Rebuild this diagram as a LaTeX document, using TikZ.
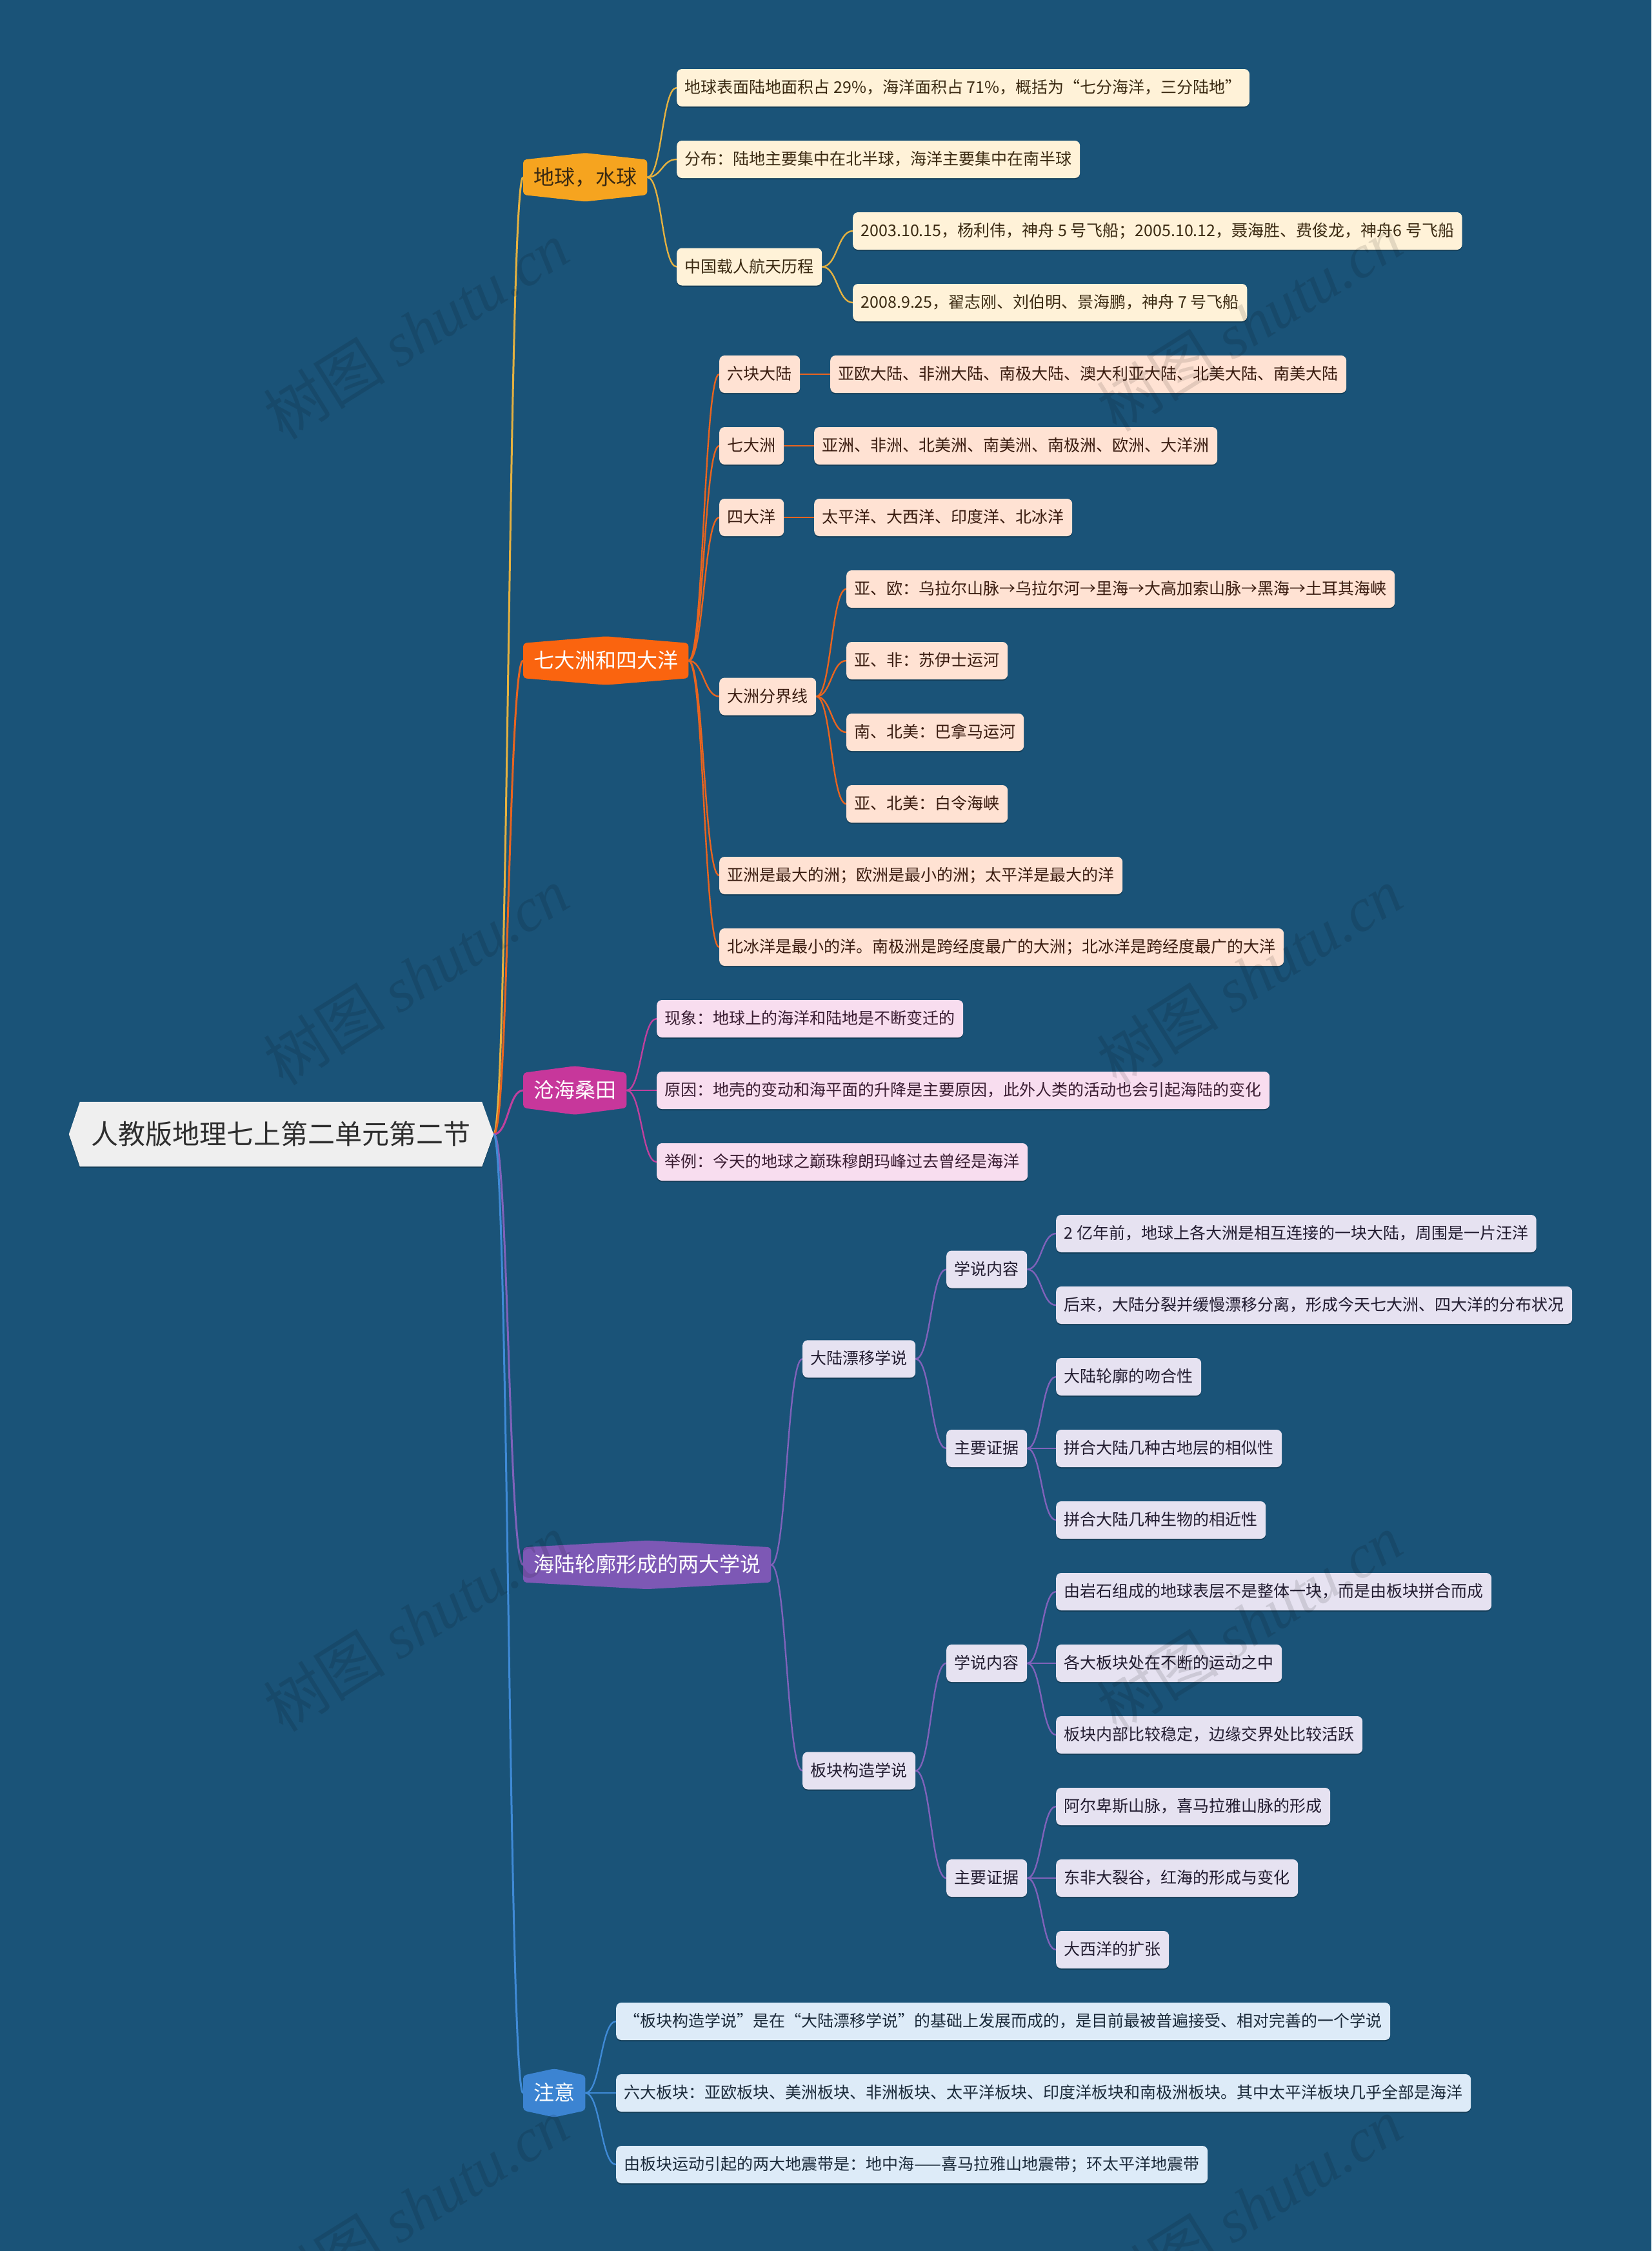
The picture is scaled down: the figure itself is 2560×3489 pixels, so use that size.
\documentclass[tikz,border=0pt]{standalone}
\usepackage{fontspec}
\setmainfont{Noto Sans CJK SC}
\newfontfamily\wmfont{Liberation Serif}
\usetikzlibrary{calc,shadows}
\definecolor{bgc}{HTML}{1A5378}
\definecolor{rootfill}{HTML}{EFEFEF}
\definecolor{roottext}{HTML}{2E2E2E}
% branch 1 (yellow)
\definecolor{cA}{HTML}{F6A41F}\definecolor{eA}{HTML}{E5B140}\definecolor{lA}{HTML}{FFF2D8}\definecolor{tA}{HTML}{3B2A12}
% branch 2 (orange)
\definecolor{cB}{HTML}{FA640F}\definecolor{eB}{HTML}{E9641F}\definecolor{lB}{HTML}{FFE2D3}\definecolor{tB}{HTML}{3A1C10}
% branch 3 (magenta)
\definecolor{cC}{HTML}{C7379B}\definecolor{eC}{HTML}{C0409E}\definecolor{lC}{HTML}{F8DDEF}\definecolor{tC}{HTML}{3A1D32}
% branch 4 (purple)
\definecolor{cD}{HTML}{7D58B5}\definecolor{eD}{HTML}{7F62BA}\definecolor{lD}{HTML}{E6E2F1}\definecolor{tD}{HTML}{221C30}
% branch 5 (blue)
\definecolor{cE}{HTML}{3C84D2}\definecolor{eE}{HTML}{3F8AD6}\definecolor{lE}{HTML}{DDEBF8}\definecolor{tE}{HTML}{1B2A3A}
\pgfdeclarelayer{bg}\pgfdeclarelayer{edges}\pgfdeclarelayer{shapes}\pgfdeclarelayer{wm}
\pgfsetlayers{bg,edges,shapes,main,wm}
\newcommand\fsleaf{\fontsize{25pt}{30pt}\selectfont}
\newcommand\fsmain{\fontsize{32pt}{38pt}\selectfont}
\newcommand\fsroot{\fontsize{42pt}{50pt}\selectfont}
\newcommand\fswm{\fontsize{95pt}{110pt}\selectfont}
\newcommand\lnk[3]{\draw[#1] let \p1=(#2.east), \p2=(#3.west), \p3=($(\p1)!0.5!(\p2)$) in (\p1) .. controls (\x3,\y1) and (\x3,\y2) .. (\p2);}
\newcommand\hexfill[2]{\fill[#2, rounded corners=5pt] (#1.south west) -- (#1.north west) -- ([yshift=10.5pt]#1.north) -- (#1.north east) -- (#1.south east) -- ([yshift=-10.5pt]#1.south) -- cycle;}
\begin{document}
\begin{tikzpicture}[x=1pt,y=-1pt,
  leaf/.style={rounded corners=8pt, anchor=west, inner xsep=12.5pt, inner ysep=0pt,
    minimum height=58pt, text height=21pt, text depth=4pt, font=\fsleaf,
    drop shadow={shadow xshift=0pt, shadow yshift=-2pt, opacity=0.25, fill=black}},
  leafA/.style={leaf, fill=lA, text=tA},
  leafB/.style={leaf, fill=lB, text=tB},
  leafC/.style={leaf, fill=lC, text=tC},
  leafD/.style={leaf, fill=lD, text=tD},
  leafE/.style={leaf, fill=lE, text=tE},
  mainnode/.style={anchor=west, inner xsep=16pt, inner ysep=0pt, minimum height=54pt,
    text height=28pt, text depth=5pt, font=\fsmain},
  edgemain/.style={line width=3pt},
  edgesub/.style={line width=2.4pt},
  wmstyle/.style={rotate=32, font=\fswm, text=black, opacity=0.11}
]
\useasboundingbox (0,0) rectangle (2560,3489);
\begin{pgfonlayer}{bg}
\fill[bgc] (0,0) rectangle (2560,3489);
\end{pgfonlayer}

% ---------- root ----------
\node[font=\fsroot, text=roottext, inner xsep=17.5pt, inner ysep=0pt, minimum height=100pt,
  text height=36pt, text depth=6pt] (root) at (435.5,1758) {人教版地理七上第二单元第二节};
\node[inner sep=0pt, minimum size=0pt] (rootR) at ($(root.east)+(18,0)$) {};
\begin{pgfonlayer}{shapes}
\fill[black, opacity=0.25] ([xshift=-17pt,yshift=-2pt]root.west) -- ([yshift=-2pt]root.north west) -- ([yshift=-2pt]root.north east) -- ([xshift=18pt,yshift=-2pt]root.east) -- ([yshift=-2pt]root.south east) -- ([yshift=-2pt]root.south west) -- cycle;
\fill[rootfill] ([xshift=-17pt]root.west) -- (root.north west) -- (root.north east) -- ([xshift=18pt]root.east) -- (root.south east) -- (root.south west) -- cycle;
\end{pgfonlayer}

% ---------- main branches ----------
\node[mainnode, text=tA] (m1) at (811,274.75) {地球，水球};
\node[mainnode, text=white] (m2) at (811,1024) {七大洲和四大洋};
\node[mainnode, text=white] (m3) at (811,1690) {沧海桑田};
\node[mainnode, text=white] (m4) at (811,2425.4) {海陆轮廓形成的两大学说};
\node[mainnode, text=white] (m5) at (811,3244) {注意};
\begin{pgfonlayer}{shapes}
\hexfill{m1}{cA}
\hexfill{m2}{cB}
\hexfill{m3}{cC}
\hexfill{m4}{cD}
\hexfill{m5}{cE}
\end{pgfonlayer}

% ---------- branch 1 ----------
\node[leafA] (a1) at (1049,136) {地球表面陆地面积占 29\%，海洋面积占 71\%，概括为“七分海洋，三分陆地”};
\node[leafA] (a2) at (1049,247) {分布：陆地主要集中在北半球，海洋主要集中在南半球};
\node[leafA] (a3) at (1049,413.5) {中国载人航天历程};
\node[leafA] (a31) at (1322,358) {2003.10.15，杨利伟，神舟 5 号飞船；2005.10.12，聂海胜、费俊龙，神舟6 号飞船};
\node[leafA] (a32) at (1322,469) {2008.9.25，翟志刚、刘伯明、景海鹏，神舟 7 号飞船};

% ---------- branch 2 ----------
\node[leafB] (b1) at (1115,580) {六块大陆};
\node[leafB] (b11) at (1287,580) {亚欧大陆、非洲大陆、南极大陆、澳大利亚大陆、北美大陆、南美大陆};
\node[leafB] (b2) at (1115,691) {七大洲};
\node[leafB] (b21) at (1262,691) {亚洲、非洲、北美洲、南美洲、南极洲、欧洲、大洋洲};
\node[leafB] (b3) at (1115,802) {四大洋};
\node[leafB] (b31) at (1262,802) {太平洋、大西洋、印度洋、北冰洋};
\node[leafB] (b4) at (1115,1079.5) {大洲分界线};
\node[leafB] (b41) at (1312,913) {亚、欧：乌拉尔山脉→乌拉尔河→里海→大高加索山脉→黑海→土耳其海峡};
\node[leafB] (b42) at (1312,1024) {亚、非：苏伊士运河};
\node[leafB] (b43) at (1312,1135) {南、北美：巴拿马运河};
\node[leafB] (b44) at (1312,1246) {亚、北美：白令海峡};
\node[leafB] (b5) at (1115,1357) {亚洲是最大的洲；欧洲是最小的洲；太平洋是最大的洋};
\node[leafB] (b6) at (1115,1468) {北冰洋是最小的洋。南极洲是跨经度最广的大洲；北冰洋是跨经度最广的大洋};

% ---------- branch 3 ----------
\node[leafC] (c1) at (1018,1579) {现象：地球上的海洋和陆地是不断变迁的};
\node[leafC] (c2) at (1018,1690) {原因：地壳的变动和海平面的升降是主要原因，此外人类的活动也会引起海陆的变化};
\node[leafC] (c3) at (1018,1801) {举例：今天的地球之巅珠穆朗玛峰过去曾经是海洋};

% ---------- branch 4 ----------
\node[leafD] (d1) at (1244,2106.25) {大陆漂移学说};
\node[leafD] (d11) at (1467,1967.5) {学说内容};
\node[leafD] (d111) at (1637,1912) {2 亿年前，地球上各大洲是相互连接的一块大陆，周围是一片汪洋};
\node[leafD] (d112) at (1637,2023) {后来，大陆分裂并缓慢漂移分离，形成今天七大洲、四大洋的分布状况};
\node[leafD] (d12) at (1467,2245) {主要证据};
\node[leafD] (d121) at (1637,2134) {大陆轮廓的吻合性};
\node[leafD] (d122) at (1637,2245) {拼合大陆几种古地层的相似性};
\node[leafD] (d123) at (1637,2356) {拼合大陆几种生物的相近性};
\node[leafD] (d2) at (1244,2744.5) {板块构造学说};
\node[leafD] (d21) at (1467,2578) {学说内容};
\node[leafD] (d211) at (1637,2467) {由岩石组成的地球表层不是整体一块，而是由板块拼合而成};
\node[leafD] (d212) at (1637,2578) {各大板块处在不断的运动之中};
\node[leafD] (d213) at (1637,2689) {板块内部比较稳定，边缘交界处比较活跃};
\node[leafD] (d22) at (1467,2911) {主要证据};
\node[leafD] (d221) at (1637,2800) {阿尔卑斯山脉，喜马拉雅山脉的形成};
\node[leafD] (d222) at (1637,2911) {东非大裂谷，红海的形成与变化};
\node[leafD] (d223) at (1637,3022) {大西洋的扩张};

% ---------- branch 5 ----------
\node[leafE] (e1) at (955,3133) {“板块构造学说”是在“大陆漂移学说”的基础上发展而成的，是目前最被普遍接受、相对完善的一个学说};
\node[leafE] (e2) at (955,3244) {六大板块：亚欧板块、美洲板块、非洲板块、太平洋板块、印度洋板块和南极洲板块。其中太平洋板块几乎全部是海洋};
\node[leafE] (e3) at (955,3355) {由板块运动引起的两大地震带是：地中海——喜马拉雅山地震带；环太平洋地震带};

% ---------- connectors ----------
\begin{pgfonlayer}{edges}
\lnk{edgemain,eA}{rootR}{m1}
\lnk{edgemain,eB}{rootR}{m2}
\lnk{edgemain,eC}{rootR}{m3}
\lnk{edgemain,eD}{rootR}{m4}
\lnk{edgemain,eE}{rootR}{m5}
\lnk{edgesub,eA}{m1}{a1}
\lnk{edgesub,eA}{m1}{a2}
\lnk{edgesub,eA}{m1}{a3}
\lnk{edgesub,eA}{a3}{a31}
\lnk{edgesub,eA}{a3}{a32}
\lnk{edgesub,eB}{m2}{b1}
\lnk{edgesub,eB}{m2}{b2}
\lnk{edgesub,eB}{m2}{b3}
\lnk{edgesub,eB}{m2}{b4}
\lnk{edgesub,eB}{m2}{b5}
\lnk{edgesub,eB}{m2}{b6}
\lnk{edgesub,eB}{b1}{b11}
\lnk{edgesub,eB}{b2}{b21}
\lnk{edgesub,eB}{b3}{b31}
\lnk{edgesub,eB}{b4}{b41}
\lnk{edgesub,eB}{b4}{b42}
\lnk{edgesub,eB}{b4}{b43}
\lnk{edgesub,eB}{b4}{b44}
\lnk{edgesub,eC}{m3}{c1}
\lnk{edgesub,eC}{m3}{c2}
\lnk{edgesub,eC}{m3}{c3}
\lnk{edgesub,eD}{m4}{d1}
\lnk{edgesub,eD}{m4}{d2}
\lnk{edgesub,eD}{d1}{d11}
\lnk{edgesub,eD}{d1}{d12}
\lnk{edgesub,eD}{d11}{d111}
\lnk{edgesub,eD}{d11}{d112}
\lnk{edgesub,eD}{d12}{d121}
\lnk{edgesub,eD}{d12}{d122}
\lnk{edgesub,eD}{d12}{d123}
\lnk{edgesub,eD}{d2}{d21}
\lnk{edgesub,eD}{d2}{d22}
\lnk{edgesub,eD}{d21}{d211}
\lnk{edgesub,eD}{d21}{d212}
\lnk{edgesub,eD}{d21}{d213}
\lnk{edgesub,eD}{d22}{d221}
\lnk{edgesub,eD}{d22}{d222}
\lnk{edgesub,eD}{d22}{d223}
\lnk{edgesub,eE}{m5}{e1}
\lnk{edgesub,eE}{m5}{e2}
\lnk{edgesub,eE}{m5}{e3}
\end{pgfonlayer}

% ---------- watermarks ----------
\begin{pgfonlayer}{wm}
\node[wmstyle] (w1) at (645,512) {树图 {\wmfont\itshape shutu.cn}};
\node[wmstyle] (w2) at (1937,500) {树图 {\wmfont\itshape shutu.cn}};
\node[wmstyle] (w3) at (645,1513) {树图 {\wmfont\itshape shutu.cn}};
\node[wmstyle] (w4) at (1937,1513) {树图 {\wmfont\itshape shutu.cn}};
\node[wmstyle] (w5) at (645,2515) {树图 {\wmfont\itshape shutu.cn}};
\node[wmstyle] (w6) at (1937,2515) {树图 {\wmfont\itshape shutu.cn}};
\node[wmstyle] (w7) at (645,3420) {树图 {\wmfont\itshape shutu.cn}};
\node[wmstyle] (w8) at (1937,3420) {树图 {\wmfont\itshape shutu.cn}};
\end{pgfonlayer}
\end{tikzpicture}
\end{document}
